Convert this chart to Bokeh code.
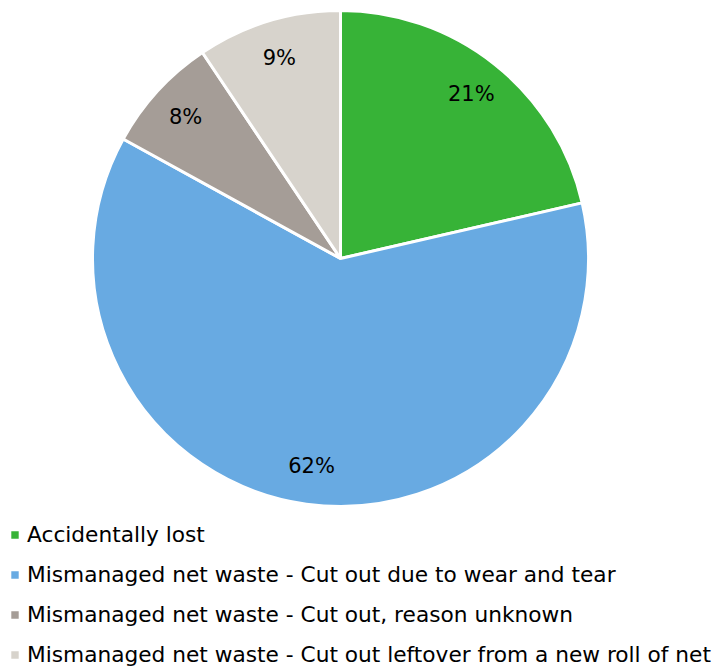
import math
from bokeh.plotting import figure
from bokeh.models import ColumnDataSource, Legend, LegendItem
from bokeh.core.properties import value
from bokeh.embed import file_html
from bokeh.resources import INLINE

categories = [
    "Accidentally lost",
    "Mismanaged net waste - Cut out due to wear and tear",
    "Mismanaged net waste - Cut out, reason unknown",
    "Mismanaged net waste - Cut out leftover from a new roll of net",
]
values = [21.4, 61.6, 7.6, 9.4]
colors = ["#37b337", "#68aae2", "#a59d97", "#d7d3cc"]

W, H = 718, 668
CX, CY, R = 340, 410, 248
LABEL_R = 210
FONT = "DejaVu Sans"

total = sum(values)
starts, ends, lx, ly, labels = [], [], [], [], []
cum = 0.0
for v in values:
    a0 = math.pi / 2 - cum / total * 2 * math.pi
    cum += v
    a1 = math.pi / 2 - cum / total * 2 * math.pi
    starts.append(a0)
    ends.append(a1)
    mid = (a0 + a1) / 2
    lx.append(CX + LABEL_R * math.cos(mid))
    ly.append(CY + LABEL_R * math.sin(mid))
    labels.append(f"{round(v / total * 100)}%")

src = ColumnDataSource(dict(cat=categories, val=values, color=colors,
                            start=starts, end=ends, lx=lx, ly=ly, label=labels))

p = figure(width=W, height=H, x_range=(0, W), y_range=(0, H),
           output_backend="svg", toolbar_location=None,
           x_axis_location=None, y_axis_location=None, min_border=0)
p.outline_line_color = None
p.grid.visible = False
p.background_fill_color = "white"
p.border_fill_color = "white"

w = p.wedge(x=CX, y=CY, radius=R, start_angle="start", end_angle="end",
            direction="clock", fill_color="color", line_color="white",
            line_width=3, source=src)

p.text(x="lx", y="ly", text="label", source=src, text_align="center",
       text_baseline="middle", text_font=value(FONT),
       text_font_size="21px", text_color="#000000")

items = [LegendItem(label=c, renderers=[w], index=i) for i, c in enumerate(categories)]
legend = Legend(items=items, location=(8, 1), orientation="vertical",
                label_text_font=FONT, label_text_font_size="21.7px",
                label_text_color="#000000",
                glyph_width=13, glyph_height=13, label_standoff=6,
                label_height=20, spacing=15, padding=0, margin=0,
                border_line_color=None, background_fill_alpha=0)
p.add_layout(legend)

open("out.html", "w").write(file_html(p, INLINE))
